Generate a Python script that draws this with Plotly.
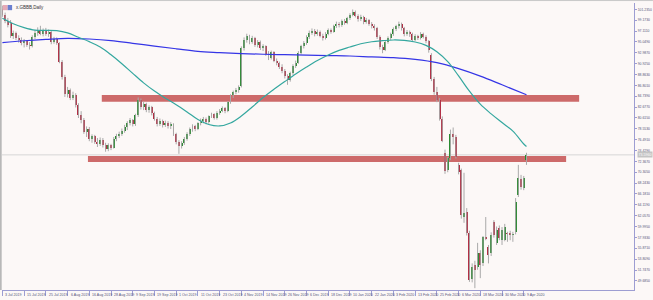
import plotly.graph_objects as go

# ---------------- data ----------------
opens = [101.3,100.2,99.0,98.6,96.1,96.8,95.8,95.4,94.9,95.2,
         94.5,94.2,96.0,96.7,97.1,96.6,97.3,96.5,96.9,95.0,
         95.6,94.8,91.3,88.3,85.1,85.9,84.4,85.0,83.0,81.1,
         80.2,78.0,78.5,76.6,77.1,76.0,75.6,76.5,75.4,74.7,
         75.4,75.0,76.7,77.2,77.6,78.2,78.9,79.6,80.2,79.4,
         81.1,84.0,82.6,83.2,82.1,82.6,81.5,80.4,79.4,80.0,
         79.2,79.7,79.0,79.4,77.5,76.0,75.2,75.9,76.6,77.6,
         78.5,79.0,78.5,79.6,80.1,80.5,79.8,80.9,81.3,80.6,
         81.6,82.0,82.5,81.9,83.6,84.9,85.5,85.9,86.6,93.8,
         95.4,96.1,95.0,95.8,94.5,95.1,93.8,94.2,92.8,92.0,
         93.1,91.5,91.0,90.3,89.5,88.5,87.8,89.1,90.5,91.1,
         93.0,94.2,94.8,96.0,96.8,97.2,96.5,97.0,96.2,95.8,
         96.6,97.3,97.0,98.0,98.5,98.2,99.0,98.6,99.5,100.2,
         100.8,100.0,99.3,99.8,98.8,99.2,98.5,98.0,97.6,96.0,
         94.0,93.5,95.0,95.8,96.5,97.5,98.0,98.5,97.6,96.5,
         97.0,96.5,95.5,96.2,95.8,96.6,96.0,95.2,92.6,88.0,
         85.5,84.0,80.5,74.0,70.7,73.0,77.6,77.0,71.7,70.7,
         61.8,62.8,58.8,50.0,52.7,52.3,55.0,53.1,58.0,56.1,
         55.0,60.9,56.9,59.7,57.4,57.5,58.7,58.7,58.4,59.0,
         66.0,69.0,67.3,72.6]
highs = [101.9,100.6,99.6,99.2,97.2,97.0,96.3,95.9,95.6,95.4,
         95.0,96.3,97.3,97.8,98.1,97.6,97.7,97.4,97.2,96.0,
         95.9,95.0,91.6,88.8,86.5,86.2,85.6,85.3,83.4,81.9,
         80.6,79.0,78.9,77.5,77.4,76.8,76.9,76.8,75.9,75.8,
         75.7,77.0,77.6,78.0,78.6,79.3,80.0,80.6,80.4,81.4,
         84.5,84.3,83.7,83.5,83.0,82.9,81.8,80.8,80.5,80.3,
         80.1,80.0,79.8,79.6,77.8,76.4,76.2,77.0,77.9,78.8,
         79.4,79.3,79.8,80.5,80.8,80.7,81.1,81.6,81.5,81.9,
         82.3,82.8,82.7,83.8,85.1,85.8,86.3,86.8,94.2,95.9,
         96.6,96.4,96.2,96.0,95.4,95.3,94.6,94.4,93.3,93.4,
         93.3,91.9,91.3,90.8,89.9,88.9,89.4,90.8,91.5,93.3,
         94.5,95.2,96.3,97.2,97.6,97.5,97.4,97.2,96.6,96.9,
         97.6,97.6,98.3,98.9,98.8,99.3,99.4,99.8,100.5,101.2,
         101.0,100.3,100.2,100.0,99.6,99.4,98.8,98.4,97.9,96.3,
         94.5,95.3,96.1,96.8,97.8,98.3,98.9,98.7,97.9,97.3,
         97.2,96.8,96.5,96.4,96.9,96.8,96.3,95.4,92.9,88.4,
         86.5,84.4,80.9,74.6,73.2,78.4,78.8,77.4,72.1,71.0,
         70.2,63.5,59.2,53.0,53.5,56.9,55.5,58.2,61.8,56.5,
         58.9,61.2,60.0,60.2,59.9,60.5,59.0,59.2,59.0,65.4,
         71.7,69.8,69.6,74.0]
lows = [99.8,98.6,97.8,95.8,95.6,95.4,94.9,94.4,94.0,94.1,
        93.6,94.0,95.6,96.2,96.3,96.1,96.2,96.0,94.6,94.7,
        94.5,91.0,87.9,84.6,84.5,84.0,84.0,82.6,80.6,79.6,
        77.6,77.0,76.2,75.9,75.7,75.1,75.3,75.0,74.2,74.3,
        74.5,74.8,76.2,76.8,77.2,77.8,78.3,79.2,79.0,79.1,
        80.8,82.2,82.1,81.7,81.6,81.1,80.1,79.0,79.1,78.8,
        78.9,78.6,78.5,77.2,75.6,73.8,74.8,75.5,76.3,77.2,
        78.0,78.1,78.3,79.2,79.6,79.4,79.5,80.6,80.3,80.3,
        81.2,81.7,81.5,81.7,83.3,84.4,85.1,85.4,86.4,93.4,
        94.9,94.6,94.7,94.1,94.0,93.5,93.3,92.4,91.6,91.7,
        91.2,90.6,89.9,89.1,88.1,86.9,87.5,88.8,90.1,90.9,
        92.7,93.8,94.5,95.6,96.4,96.1,96.2,95.9,95.3,95.5,
        96.3,96.6,96.8,97.7,97.8,97.9,98.3,98.4,99.2,99.9,
        99.7,98.9,99.0,98.4,98.5,98.1,97.6,97.2,95.6,93.6,
        92.9,93.3,94.7,95.4,96.2,97.1,97.6,97.2,96.1,96.2,
        96.0,95.1,95.2,95.4,95.5,95.7,94.8,93.0,87.6,85.0,
        83.6,80.1,76.0,70.0,70.3,72.6,75.6,72.9,69.9,61.5,
        60.7,58.3,49.5,49.4,48.3,51.8,50.2,52.5,57.4,53.0,
        54.4,57.9,56.5,57.4,56.5,57.2,57.1,57.4,57.1,58.5,
        65.6,67.0,66.9,71.7]
closes = [100.2,99.0,98.3,96.1,96.8,95.8,95.4,94.9,95.2,94.5,
          94.2,96.0,96.7,97.1,96.6,97.3,96.5,96.9,95.0,95.6,
          94.8,91.3,88.3,85.1,85.9,84.4,85.0,83.0,81.1,80.2,
          78.0,78.5,76.6,77.1,76.0,75.6,76.5,75.4,74.7,75.4,
          75.0,76.7,77.2,77.6,78.2,78.9,79.6,80.2,79.4,81.1,
          84.0,82.6,83.2,82.1,82.6,81.5,80.4,79.4,80.0,79.2,
          79.7,79.0,79.4,77.5,76.0,75.2,75.9,76.6,77.6,78.5,
          79.0,78.5,79.6,80.1,80.5,79.8,80.9,81.3,80.6,81.6,
          82.0,82.5,81.9,83.6,84.9,85.5,85.9,86.5,93.8,95.4,
          96.1,95.0,95.8,94.5,95.1,93.8,94.2,92.8,92.0,93.1,
          91.5,91.0,90.3,89.5,88.5,87.8,89.1,90.5,91.1,93.0,
          94.2,94.8,96.0,96.8,97.2,96.5,97.0,96.2,95.8,96.6,
          97.3,97.0,98.0,98.5,98.2,99.0,98.6,99.5,100.2,100.8,
          100.0,99.3,99.8,98.8,99.2,98.5,98.0,97.6,96.0,94.0,
          93.5,95.0,95.8,96.5,97.5,98.0,98.5,97.6,96.5,97.0,
          96.5,95.5,96.2,95.8,96.6,96.0,95.2,93.5,88.0,85.5,
          84.0,80.5,76.2,70.6,73.0,77.6,77.0,73.2,70.4,62.2,
          62.6,58.8,49.9,52.3,51.8,55.0,52.7,58.0,57.6,54.6,
          58.4,58.4,59.3,57.8,59.3,59.9,58.6,58.3,58.5,64.7,
          69.2,67.5,69.2,73.6]

# moving averages (bar index, value)
ma_fast_idx = [0,4,8,12,16,20,24,28,32,36,40,44,48,52,56,60,64,68,72,76,
               80,84,88,92,96,100,104,108,112,116,120,124,128,132,136,140,
               144,148,152,156,160,164,168,172,176,180,184,188,192,193]
ma_fast = [99.53,98.48,97.76,97.29,97.24,97.18,96.76,95.92,95.09,94.07,
           92.60,90.91,89.07,87.27,85.71,84.36,83.13,81.76,80.32,79.37,
           79.09,79.65,80.98,82.69,84.48,86.05,87.51,88.94,90.26,91.50,
           92.56,93.43,94.08,94.69,95.07,95.27,95.41,95.33,95.03,94.38,
           93.17,91.29,88.59,85.69,83.22,81.38,79.73,78.10,75.67,75.19]
ma_slow_idx = [0,8,16,24,32,40,48,56,64,72,80,88,96,104,112,120,128,136,
               144,152,160,168,176,184,193]
ma_slow = [94.90,95.26,95.53,95.73,95.60,95.29,94.78,94.25,93.74,93.24,
           93.02,92.83,92.70,92.62,92.54,92.45,92.37,92.20,92.05,91.71,
           91.10,89.98,88.56,86.90,85.01]

# support / resistance zones: start bar, end bar, low, high
zone_start = [31.5, 36.6]
zone_end = [207.6, 212.4]
zone_low = [72.25, 83.70]
zone_high = [73.39, 84.97]

# axis ticks
x_tick_idx = [0,8,16,24,32,40,48,56,64,72,80,88,96,104,112,120,128,136,
              144,152,160,168,176,184,192]
x_tick_text = ["3 Jul 2019","15 Jul 2019","25 Jul 2019","6 Aug 2019","16 Aug 2019",
               "28 Aug 2019","9 Sep 2019","19 Sep 2019","1 Oct 2019","11 Oct 2019",
               "23 Oct 2019","4 Nov 2019","14 Nov 2019","26 Nov 2019","6 Dec 2019",
               "18 Dec 2019","10 Jan 2020","22 Jan 2020","3 Feb 2020","13 Feb 2020",
               "25 Feb 2020","6 Mar 2020","18 Mar 2020","30 Mar 2020","9 Apr 2020"]
y_tick_vals = [101.235,99.173,97.111,95.049,92.987,90.925,88.863,86.801,84.739,
               82.677,80.615,78.553,76.491,74.429,72.367,70.305,68.243,66.181,
               64.119,62.057,59.995,57.933,55.871,53.809,51.747,49.685]
y_tick_text = ["101.2350","99.1730","97.1110","95.0490","92.9870","90.9250",
               "88.8630","86.8010","84.7390","82.6770","80.6150","78.5530",
               "76.4910","74.4290","72.3670","70.3050","68.2430","66.1810",
               "64.1190","62.0570","59.9950","57.9330","55.8710","53.8090",
               "51.7470","49.6850"]
title_text = "x.GBBB,Daily"
last_price_text = "73.5960"

# ---------------- styles ----------------
BG = "#fcf8f7"
UP = "#23882a"
DOWN = "#b3283f"
WICK = "#a9a9a9"
AXIS = "#9d9dd2"
ZONE = "#cd6a6a"
LABEL = "#55557a"

idx = list(range(len(closes)))

# wicks
wx, wy = [], []
for i, h, l in zip(idx, highs, lows):
    wx += [i, i, None]
    wy += [l, h, None]

bases = [min(o, c) for o, c in zip(opens, closes)]
heights = [max(abs(c - o), 0.15) for o, c in zip(opens, closes)]
colors = [UP if c >= o else DOWN for o, c in zip(opens, closes)]

fig = go.Figure()
fig.add_trace(go.Scatter(x=wx, y=wy, mode="lines",
                         line=dict(color=WICK, width=1), hoverinfo="skip"))
fig.add_trace(go.Bar(x=idx, y=heights, base=bases, width=0.72,
                     marker=dict(color=colors, line=dict(width=0)),
                     hoverinfo="skip"))
fig.add_trace(go.Scatter(x=ma_slow_idx, y=ma_slow, mode="lines",
                         line=dict(color="#3535e6", width=1.2, shape="spline"),
                         hoverinfo="skip"))
fig.add_trace(go.Scatter(x=ma_fast_idx, y=ma_fast, mode="lines",
                         line=dict(color="#34a79f", width=1.2, shape="spline"),
                         hoverinfo="skip"))

shapes = []
# bid line
shapes.append(dict(type="line", xref="paper", x0=0, x1=1, yref="y",
                   y0=closes[-1], y1=closes[-1],
                   line=dict(color="#d6d6d6", width=1), layer="below"))
for xs, xe, lo, hi in zip(zone_start, zone_end, zone_low, zone_high):
    shapes.append(dict(type="rect", xref="x", yref="y", x0=xs, x1=xe, y0=lo, y1=hi,
                       fillcolor=ZONE, line=dict(width=0), layer="below"))
# window edges
shapes.append(dict(type="rect", xref="paper", yref="paper", x0=-0.0032, x1=-0.0005,
                   y0=0, y1=1.0105, fillcolor="#b8b8b8", line=dict(width=0)))
shapes.append(dict(type="line", xref="paper", yref="paper", x0=-0.0032, x1=1.03,
                   y0=1.0085, y1=1.0085, line=dict(color="#c8c8c8", width=1)))
# small symbol icon
shapes.append(dict(type="rect", xref="paper", yref="paper", x0=0.001, x1=0.009,
                   y0=0.975, y1=0.993, fillcolor="#e7a9b6", line=dict(width=0)))
shapes.append(dict(type="rect", xref="paper", yref="paper", x0=0.009, x1=0.016,
                   y0=0.975, y1=0.993, fillcolor="#6b7fd0", line=dict(width=0)))

annotations = [
    dict(text=title_text, xref="paper", yref="paper", x=0.019, y=0.984,
         xanchor="left", yanchor="middle", showarrow=False,
         font=dict(size=4.5, color="#333333", family="Liberation Sans")),
    dict(text=last_price_text, xref="paper", yref="y", x=1.004, y=closes[-1],
         xanchor="left", yanchor="middle", showarrow=False,
         bgcolor="#c4c4c4", borderpad=0.5,
         font=dict(size=3.6, color="#ffffff", family="Liberation Sans")),
]
# date labels, left-aligned next to their tick marks (MetaTrader style)
for tx, tt in zip(x_tick_idx, x_tick_text):
    annotations.append(dict(text=tt, xref="x", yref="paper", x=tx, y=-0.016,
                            xanchor="left", yanchor="middle", xshift=1,
                            showarrow=False,
                            font=dict(size=3.6, color=LABEL,
                                      family="Liberation Sans")))

fig.update_layout(
    width=653, height=300,
    margin=dict(l=2, r=19, t=3, b=10),
    paper_bgcolor=BG, plot_bgcolor=BG,
    showlegend=False, bargap=0, hovermode=False,
    shapes=shapes, annotations=annotations,
    font=dict(family="Liberation Sans", size=4, color=LABEL),
)
fig.update_xaxes(range=[-0.15, 232.6], tickmode="array", tickvals=x_tick_idx,
                 showticklabels=False, showgrid=False, zeroline=False,
                 showline=True, linecolor=AXIS, linewidth=1,
                 ticks="outside", ticklen=5, tickcolor=AXIS, tickwidth=1,
                 automargin=False, fixedrange=True)
fig.update_yaxes(range=[47.95, 102.43], side="right", tickmode="array",
                 tickvals=y_tick_vals, ticktext=y_tick_text, showgrid=False,
                 zeroline=False, showline=True, linecolor=AXIS, linewidth=1,
                 ticks="outside", ticklen=2, tickcolor=AXIS, tickwidth=1,
                 tickfont=dict(size=3.4, color=LABEL),
                 automargin=False, fixedrange=True)

fig.write_html("out.html", config={"displayModeBar": False, "staticPlot": True},
               post_script="document.body.style.margin='0';")
